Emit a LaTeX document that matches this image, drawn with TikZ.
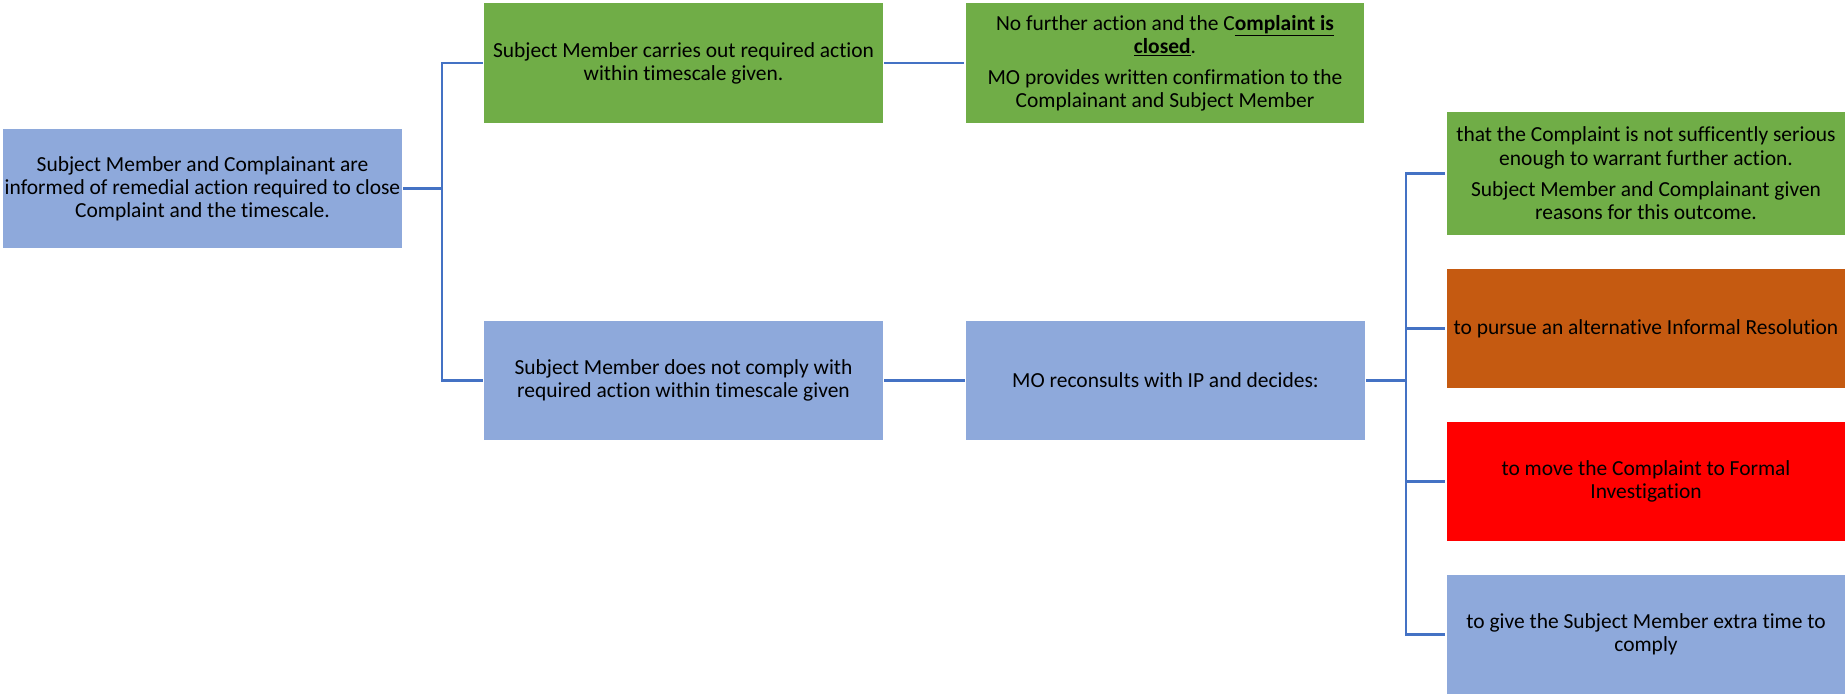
\documentclass[tikz,border=0pt]{standalone}
\usepackage{fontspec}
\setmainfont{Carlito}[Ligatures=NoCommon]
\usetikzlibrary{positioning}
\definecolor{boxblue}{HTML}{8EA9DB}
\definecolor{boxgreen}{HTML}{70AD47}
\definecolor{boxorange}{HTML}{C55A11}
\definecolor{boxred}{HTML}{FF0000}
\definecolor{linkblue}{HTML}{4472C4}

\begin{document}
\begin{tikzpicture}[
			x=0.75pt, y=-0.75pt,
			stage/.style={
				minimum width=299pt,
				minimum height=89.5pt,
				align=center,
				inner sep=0pt,
				outer sep=1pt,
				font=\fontsize{16.1}{17.3}\selectfont
			},
			bluebox/.style={stage, fill=boxblue},
			greenbox/.style={stage, fill=boxgreen},
			orangebox/.style={stage, fill=boxorange},
			redbox/.style={stage, fill=boxred},
			link/.style={
				draw=linkblue,
				line width=1.8pt
			}
		]
		\useasboundingbox (0,0) rectangle (1845,694);

		\node [bluebox] (start) at (202.5,188.5) {Subject Member and Complainant are\\informed of remedial action required to close\\Complaint and the timescale.};

		\node [greenbox, minimum height=90pt] (done) at (683.5,63) {Subject Member carries out required action\\within timescale given.};
		\node [greenbox, minimum height=90pt] (closed) at (1165,63) {No further action and the C\underline{\textbf{omplaint is}}\\\underline{\textbf{closed}}.\\[6pt]MO provides written confirmation to the\\Complainant and Subject Member};

		\node [bluebox] (notdone) at (683.5,380.5) {Subject Member does not comply with\\required action within timescale given};
		\node [bluebox] (reconsult) at (1165.5,380.5) {MO reconsults with IP and decides:};

		\node [greenbox, minimum height=92pt] (nfa) at (1646,173.5) {that the Complaint is not sufficently serious\\enough to warrant further action.\\[6.5pt]Subject Member and Complainant given\\reasons for this outcome.};
		\node [orangebox] (informal) at (1646,328.5) {to pursue an alternative Informal Resolution};
		\node [redbox] (formal) at (1646,481.5) {to move the Complaint to Formal\\Investigation};
		\node [bluebox] (extra) at (1646,634.5) {to give the Subject Member extra time to\\comply};

		\coordinate (j1) at (442,188.5);
		\coordinate (j2) at (1406,380.5);

		\draw [link] (start.east) -- (j1);
		\draw [link] (j1) |- (done.west);
		\draw [link] (j1) |- (notdone.west);
		\draw [link] (done.east) -- (closed.west);
		\draw [link] (notdone.east) -- (reconsult.west);

		\draw [link] (reconsult.east) -- (j2);
		\draw [link] (j2) |- (nfa.west);
		\draw [link] (j2) |- (informal.west);
		\draw [link] (j2) |- (formal.west);
		\draw [link] (j2) |- (extra.west);
		%\draw [link] (j2) |- (informal.west);

	\end{tikzpicture}
\end{document}
